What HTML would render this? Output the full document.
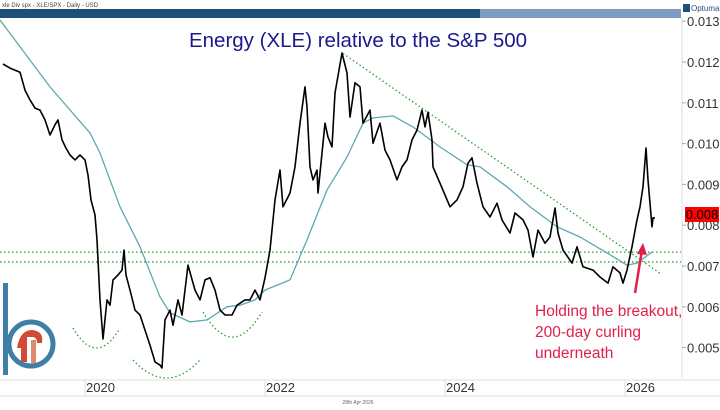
<!DOCTYPE html>
<html><head><meta charset="utf-8"><style>
html,body{margin:0;padding:0;background:#fff;}
body{width:720px;height:410px;overflow:hidden;font-family:"Liberation Sans",sans-serif;}
svg{display:block}
</style></head><body>
<svg id="chart" width="720" height="410" viewBox="0 0 720 410" xmlns="http://www.w3.org/2000/svg">
  <text x="2" y="7" font-size="6" fill="#444">xle Div spx - XLE/SPX - Daily - USD</text>
  <rect x="0" y="9" width="681" height="9" fill="#1f4e79"/>
  <rect x="480" y="9" width="201" height="9" fill="#7d9cbf"/>
  <rect x="682" y="2" width="38" height="16" fill="#fff"/>
  <rect x="683" y="4" width="7" height="8" fill="#1f4e79"/>
  <text x="691" y="11" font-size="8" fill="#1f4e79">Optuma</text>
  <line x1="682" y1="18" x2="682" y2="378" stroke="#ddd"/>
  <g id="yticks"></g>
  <rect x="0" y="380" width="720" height="16" fill="#fff"/>
  <line x1="0" y1="380" x2="720" y2="380" stroke="#ddd"/>
  <line x1="0" y1="396" x2="720" y2="396" stroke="#ddd"/>
  <g id="xticks"></g>
  <text x="358" y="47" font-size="20.5" fill="#1a1a8c" text-anchor="middle">Energy (XLE) relative to the S&amp;P 500</text>
  <text x="358" y="404" font-size="5" fill="#666" text-anchor="middle">28th Apr 2026</text>
  <g id="annot"></g>
  <g id="series"></g>
  <rect x="685" y="207" width="34" height="15" fill="#ff0000"/>
  <text x="702" y="219" font-size="13" fill="#000" text-anchor="middle">0.008</text>
  <g>
    <rect x="3" y="283" width="5" height="92" fill="#3f7fa6"/>
    <circle cx="31" cy="344" r="22" fill="none" stroke="#3f7fa6" stroke-width="5"/>
    <path d="M17 348 Q20 330 32 330 Q44 331 42 343 L37 343 Q37 337 32 337 L27 337 L27 362 L21 362 L21 348 Z" fill="#d04a35"/>
    <rect x="31" y="340" width="5" height="23" fill="#e08a6a"/>
  </g>
  <text x="535" y="316" font-size="15.5" fill="#e0204a">Holding the breakout,</text>
  <text x="535" y="337" font-size="15.5" fill="#e0204a">200-day curling</text>
  <text x="535" y="358" font-size="15.5" fill="#e0204a">underneath</text>
  <line x1="635" y1="293" x2="642" y2="250" stroke="#e0204a" stroke-width="2.5"/>
  <polygon points="643,243 637,254 647,255" fill="#e0204a"/>
</svg>
<script>
const priceDates=[2019.089,2019.167,2019.278,2019.333,2019.389,2019.444,2019.5,2019.556,2019.611,2019.667,2019.7,2019.744,2019.789,2019.833,2019.889,2019.944,2020.0,2020.033,2020.067,2020.111,2020.133,2020.167,2020.2,2020.244,2020.278,2020.311,2020.367,2020.411,2020.433,2020.456,2020.5,2020.556,2020.611,2020.667,2020.722,2020.778,2020.833,2020.856,2020.889,2020.944,2020.978,2021.033,2021.078,2021.144,2021.222,2021.278,2021.333,2021.389,2021.444,2021.5,2021.556,2021.633,2021.689,2021.778,2021.833,2021.889,2021.944,2022.0,2022.056,2022.111,2022.167,2022.2,2022.278,2022.333,2022.389,2022.444,2022.467,2022.5,2022.533,2022.578,2022.589,2022.667,2022.7,2022.744,2022.778,2022.856,2022.911,2022.944,2023.0,2023.056,2023.089,2023.167,2023.2,2023.278,2023.333,2023.389,2023.467,2023.522,2023.578,2023.633,2023.689,2023.744,2023.778,2023.811,2023.856,2023.867,2023.944,2024.056,2024.133,2024.2,2024.256,2024.3,2024.356,2024.422,2024.5,2024.578,2024.633,2024.722,2024.778,2024.867,2024.922,2024.978,2025.033,2025.111,2025.167,2025.222,2025.256,2025.311,2025.411,2025.467,2025.533,2025.644,2025.722,2025.811,2025.867,2025.944,2025.978,2026.022,2026.078,2026.133,2026.167,2026.2,2026.233,2026.256,2026.3,2026.311,2026.333];
const priceValues=[0.01195,0.01185,0.01175,0.01131,0.01107,0.01087,0.01082,0.01058,0.01021,0.01046,0.01058,0.01009,0.00989,0.00972,0.0096,0.00972,0.0096,0.00923,0.00862,0.00825,0.00764,0.00617,0.00521,0.00617,0.00604,0.00666,0.00678,0.0069,0.00739,0.00678,0.00641,0.00592,0.0058,0.00543,0.00506,0.00465,0.00457,0.0045,0.00568,0.00592,0.00555,0.00617,0.0058,0.00702,0.00641,0.00617,0.00666,0.00671,0.00641,0.00592,0.0058,0.0058,0.00604,0.00617,0.00617,0.00641,0.00617,0.00671,0.00739,0.00862,0.00935,0.00845,0.00879,0.00943,0.0105,0.01139,0.0109,0.00943,0.00911,0.00935,0.00879,0.0105,0.01016,0.00992,0.01124,0.01222,0.01173,0.01065,0.01149,0.01139,0.0105,0.01082,0.01001,0.0105,0.00984,0.0096,0.00911,0.00943,0.0096,0.01009,0.01033,0.01082,0.01041,0.01077,0.01009,0.00943,0.00903,0.00845,0.00862,0.00894,0.00952,0.00965,0.00903,0.00845,0.0082,0.00854,0.00813,0.00781,0.0083,0.00813,0.00788,0.00722,0.00788,0.00756,0.00771,0.00842,0.00781,0.00739,0.00707,0.00747,0.00698,0.0069,0.00673,0.00658,0.00698,0.00683,0.00658,0.0069,0.00747,0.00813,0.00845,0.00894,0.00989,0.00911,0.00796,0.00818,0.00818];
const maDates=[2019.056,2019.611,2020.056,2020.167,2020.389,2020.611,2020.833,2020.944,2021.167,2021.356,2021.578,2021.722,2021.889,2022.0,2022.278,2022.467,2022.689,2022.911,2023.089,2023.2,2023.422,2023.644,2023.944,2024.244,2024.389,2024.689,2024.944,2025.244,2025.5,2025.8,2026.022,2026.133,2026.3];
const maValues=[0.01303,0.01139,0.01026,0.00977,0.00845,0.00747,0.00624,0.00585,0.00563,0.00568,0.006,0.00604,0.00617,0.00641,0.00666,0.00764,0.00886,0.00967,0.0105,0.01063,0.01068,0.01041,0.00992,0.00948,0.00943,0.00894,0.00845,0.00796,0.00771,0.00732,0.00702,0.00707,0.00734];
const yTickValues=[0.013,0.012,0.011,0.010,0.009,0.008,0.007,0.006,0.005,0.004];
const yTickLabels=["0.013","0.012","0.011","0.010","0.009","0.008","0.007","0.006","0.005","0.004"];
const xTickYears=[2020,2022,2024,2026];
const supportLevels=[0.00734,0.0071];
const trendStart=[2022.867,0.01221];
const trendEnd=[2026.389,0.00682];

const NS="http://www.w3.org/2000/svg";
const xScale=d=>85+(d-2020)*90;
const yScale=v=>62+(0.012-v)*40800;
function mk(tag,attrs,parent){const e=document.createElementNS(NS,tag);for(const k in attrs)e.setAttribute(k,attrs[k]);parent.appendChild(e);return e;}
const yt=document.getElementById('yticks');
yTickValues.forEach((v,i)=>{const y=yScale(v);
  const t=mk('line',{x1:682,x2:686,y1:y,y2:y,stroke:'#aaa'},yt);
  
  
  const l=mk('text',{x:687,y:y+5,'font-size':13,fill:'#333'},yt);
  
  
  l.textContent=yTickLabels[i];});
const xt=document.getElementById('xticks');
xTickYears.forEach(yr=>{const x=xScale(yr);
  const t=mk('line',{x1:x,x2:x,y1:380,y2:396,stroke:'#ddd'},xt);
  
  
  const l=mk('text',{x:x+1,y:392,'font-size':13,fill:'#333'},xt);
  
  
  l.textContent=String(yr);});
const an=document.getElementById('annot');
supportLevels.forEach(v=>{const y=yScale(v);
  const l=mk('line',{x1:0,x2:681,y1:y,y2:y,stroke:'#2ca02c','stroke-width':1.3,'stroke-dasharray':'1.5,2.5'},an);
  
  });
const tl=mk('line',{x1:xScale(trendStart[0]),y1:yScale(trendStart[1]),x2:xScale(trendEnd[0]),y2:yScale(trendEnd[1]),stroke:'#2ca02c','stroke-width':1.3,'stroke-dasharray':'1.5,2.5'},an);


[[73,328,120,348],[133,360,200,378],[203,312,262,337]].forEach(a=>{
  const p=mk('path',{d:`M${a[0]} ${a[1]} Q${(a[0]+a[2])/2} ${a[3]+(a[3]-a[1])} ${a[2]} ${a[1]}`,fill:'none',stroke:'#2ca02c','stroke-width':1.3,'stroke-dasharray':'1.5,2.5'},an);
  
  });
const sg=document.getElementById('series');
const ma=mk('path',{d:maDates.map((d,i)=>(i?'L':'M')+xScale(d).toFixed(1)+' '+yScale(maValues[i]).toFixed(1)).join(''),fill:'none',stroke:'#5fa8b0','stroke-width':1.3},sg);


const pr=mk('path',{d:priceDates.map((d,i)=>(i?'L':'M')+xScale(d).toFixed(1)+' '+yScale(priceValues[i]).toFixed(1)).join(''),fill:'none',stroke:'#000','stroke-width':1.6,'stroke-linejoin':'round'},sg);


</script>
</body></html>
